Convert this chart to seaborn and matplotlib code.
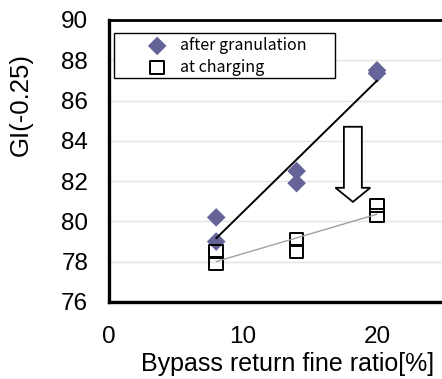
import numpy as np
import pandas as pd
import matplotlib
matplotlib.use("Agg")
import matplotlib.pyplot as plt
from matplotlib.patches import FancyArrow, Rectangle
import seaborn as sns

# Bypass return fine ratio [%] for each measurement
ratio = [8, 8, 14, 14, 20, 20]
# GI(-0.25) measured after granulation and at charging
gi_after_granulation = [80.2, 79.0, 82.5, 81.9, 87.5, 87.35]
gi_at_charging = [78.5, 77.9, 79.1, 78.5, 80.8, 80.3]

series_names = ["after granulation", "at charging"]
x_ticks = [0, 10, 20]
y_ticks = [76, 78, 80, 82, 84, 86, 88, 90]

sns.set_theme(style="white")
plt.rcParams["font.family"] = ["Liberation Sans", "DejaVu Sans"]
plt.rcParams["text.color"] = "black"
plt.rcParams["axes.labelcolor"] = "black"

df_gran = pd.DataFrame({"ratio": ratio, "gi": gi_after_granulation})
df_chg = pd.DataFrame({"ratio": ratio, "gi": gi_at_charging})

W, H = 442, 379
fig = plt.figure(figsize=(W / 100, H / 100), dpi=100)
ax = fig.add_axes([109 / W, 77 / H, 335 / W, 282 / H])

# horizontal grid
ax.set_axisbelow(True)
ax.yaxis.grid(True, color="#e3e3e3", linewidth=1.0)
ax.xaxis.grid(False)

sns.scatterplot(data=df_gran, x="ratio", y="gi", marker="D", s=90,
                color="#646499", edgecolor="none", label=series_names[0],
                ax=ax, zorder=2)
sns.scatterplot(data=df_chg, x="ratio", y="gi", marker="s", s=95,
                facecolor="none", edgecolor="black", linewidth=1.4,
                label=series_names[1], ax=ax, zorder=2)

# linear fits
sns.regplot(data=df_gran, x="ratio", y="gi", scatter=False, ci=None,
            truncate=True, color="black", line_kws={"linewidth": 1.4, "zorder": 3},
            ax=ax)
sns.regplot(data=df_chg, x="ratio", y="gi", scatter=False, ci=None,
            truncate=True, color="#a0a0a0", line_kws={"linewidth": 1.0, "zorder": 3},
            ax=ax)

# hollow arrow showing the drop from granulation to charging
ax.add_patch(FancyArrow(18.2, 84.7, 0, -3.73, width=1.34, head_width=2.6,
                        head_length=0.7, length_includes_head=True,
                        facecolor="white", edgecolor="black", linewidth=1.3,
                        zorder=4))

ax.set_xlim(0, 25)
ax.set_ylim(76, 90)
ax.set_xticks(x_ticks)
ax.set_yticks(y_ticks)
ax.tick_params(axis="both", direction="in", length=7, width=1, color="#b0b0b0",
               labelsize=17.5, labelcolor="black")
ax.tick_params(axis="x", pad=17)
ax.tick_params(axis="y", pad=15)

for side in ["left", "bottom"]:
    ax.spines[side].set_color("black")
    ax.spines[side].set_linewidth(2.4)
ax.spines["top"].set_color("black")
ax.spines["top"].set_linewidth(2.0)
ax.spines["right"].set_visible(False)

ax.set_xlabel("Bypass return fine ratio[%]", fontsize=18, color="black")
ax.xaxis.set_label_coords((288 - 109) / 335, -(364 - 302) / 282)
ax.xaxis.label.set_va("center")
ax.set_ylabel("GI(-0.25)", fontsize=18.5, color="black")
ax.yaxis.set_label_coords(-(109 - 21) / 335, (359 - 162) / 282)
ax.yaxis.label.set_va("center")

# legend box
ax.add_patch(Rectangle(((114 - 109) / 335, 1 - (78 - 20) / 282),
                       (335 - 114) / 335, (78 - 33) / 282,
                       transform=ax.transAxes, facecolor="white",
                       edgecolor="black", linewidth=1.0, zorder=5))
leg = ax.legend(loc="center left",
                bbox_to_anchor=((146 - 109) / 335, 1 - (56.5 - 20) / 282),
                frameon=False, borderaxespad=0, borderpad=0,
                handletextpad=0.75, labelspacing=0.3, handlelength=1.4,
                prop={"family": ["Noto Sans CJK JP", "DejaVu Sans"], "size": 11.5})
leg.set_zorder(6)
for t in leg.get_texts():
    t.set_color("black")

fig.savefig("out.png", dpi=100)
